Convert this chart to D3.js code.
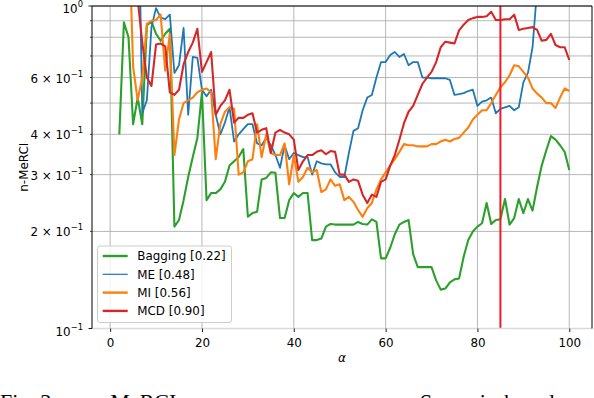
<!DOCTYPE html>
<html>
<head>
<meta charset="utf-8">
<script src="https://cdn.jsdelivr.net/npm/d3@7"></script>
<style>
  body { margin: 0; background: #fff; }
  svg { display: block; }
</style>
</head>
<body>
<div id="chart"></div>
<script>
// alpha runs 2..100, one value per step (null = not drawn / unknown)
var alphas = d3.range(2, 101);

var bagging = [
  0.40, 0.89, 0.80, 0.43, 0.52, 0.43, 0.87, 0.895, 0.82, 0.78,
  0.82, 0.85, 0.207, 0.217, 0.25, 0.295, 0.34, 0.39, 0.54, 0.25,
  0.263, 0.263, 0.27, 0.285, 0.32, 0.33, 0.34, 0.36, 0.222, 0.228,
  0.23, 0.29, 0.293, 0.305, 0.304, 0.22, 0.22, 0.25, 0.263, 0.256,
  0.263, 0.263, 0.188, 0.188, 0.19, 0.207, 0.211, 0.21, 0.21, 0.21,
  0.21, 0.21, 0.214, 0.211, 0.21, 0.218, 0.214, 0.165, 0.165, 0.178,
  0.196, 0.21, 0.214, 0.217, 0.17, 0.155, 0.155, 0.155, 0.155, 0.141,
  0.132, 0.133, 0.139, 0.142, 0.143, 0.167, 0.188, 0.2, 0.207, 0.212,
  0.245, 0.211, 0.217, 0.218, 0.252, 0.21, 0.22, 0.252, 0.228, 0.252,
  0.232, 0.275, 0.32, 0.357, 0.395, 0.385, 0.37, 0.353, 0.31
];

var me = [
  null, null, null, null, 3.0, 0.465, 0.51, 0.86, 0.985, 0.92,
  0.91, 0.94, 0.62, 0.655, 0.855, 0.46, 0.695, 0.69, 0.55, 0.525,
  0.55, 0.46, 0.40, 0.435, 0.485, 0.38, 0.40, 0.415, 0.43, 0.43,
  0.375, 0.37, 0.39, 0.37, 0.345, 0.315, 0.37, 0.335, 0.35, 0.345,
  0.34, 0.34, 0.30, 0.33, 0.325, 0.323, 0.323, 0.305, 0.295, 0.295,
  0.35, 0.41, 0.418, 0.475, 0.52, 0.53, 0.60, 0.67, 0.67, 0.705,
  0.72, 0.695, 0.71, 0.655, 0.67, 0.67, 0.60, 0.60, 0.597, 0.597,
  0.597, 0.597, 0.59, 0.53, 0.533, 0.537, 0.545, 0.55, 0.49, 0.505,
  0.51, 0.52, 0.465, 0.48, 0.485, 0.49, 0.475, 0.485, 0.58, 0.62,
  0.745, 1.13, null, null, null, null, null, null, null
];

var mi = [
  null, null, 1.9, 0.65, 0.51, 0.60, 0.88, 0.90, 0.905, 0.94,
  0.63, 0.82, 0.345, 0.445, 0.50, 0.51, 0.52, 0.54, 0.55, 0.555,
  0.54, 0.335, 0.43, 0.47, 0.485, 0.48, 0.30, 0.305, 0.33, 0.335,
  0.43, 0.34, 0.40, 0.35, 0.345, 0.345, 0.375, 0.28, 0.345, 0.285,
  0.295, 0.315, 0.305, 0.31, 0.265, 0.27, 0.29, 0.277, 0.28, 0.25,
  0.256, 0.247, 0.233, 0.222, 0.236, 0.245, 0.27, 0.29, 0.305, 0.32,
  0.335, 0.353, 0.373, 0.37, 0.37, 0.367, 0.367, 0.367, 0.373, 0.373,
  0.38, 0.385, 0.38, 0.387, 0.39, 0.405, 0.42, 0.445, 0.46, 0.475,
  0.475, 0.50, 0.53, 0.56, 0.58, 0.61, 0.655, 0.65, 0.625, 0.60,
  0.555, 0.535, 0.52, 0.50, 0.50, 0.483, 0.52, 0.555, 0.545
];

var mcd = [
  null, null, null, null, 1.05, 0.77, 0.60, 0.565, 0.76, 0.765,
  0.75, 0.54, 0.53, 0.55, 0.66, 0.72, 0.77, 0.85, 0.625, 0.67,
  0.72, 0.46, 0.49, 0.51, 0.55, 0.435, 0.45, 0.45, 0.46, 0.465,
  0.405, 0.413, 0.418, 0.35, 0.405, 0.413, 0.405, 0.40, 0.385, 0.31,
  0.33, 0.345, 0.345, 0.353, 0.357, 0.347, 0.355, 0.353, 0.30, 0.30,
  0.285, 0.29, 0.287, 0.26, 0.245, 0.26, 0.256, 0.285, 0.29, 0.32,
  0.345, 0.385, 0.433, 0.47, 0.49, 0.53, 0.573, 0.60, 0.625, 0.67,
  0.745, 0.775, 0.77, 0.765, 0.84, 0.875, 0.905, 0.917, 0.925, 0.925,
  0.93, 0.96, 0.905, 0.905, 0.91, 0.91, 0.94, 0.843, 0.85, 0.855,
  0.86, 0.843, 0.78, 0.785, 0.82, 0.757, 0.745, 0.745, 0.68
];

var seriesNames = ["Bagging [0.22]", "ME [0.48]", "MI [0.56]", "MCD [0.90]"];
var seriesColors = ["#2ca02c", "#1f77b4", "#ff7f0e", "#d62728"];
var xTicks = [0, 20, 40, 60, 80, 100];
var yMajor = [0.1, 1];
var yMinor = [0.2, 0.3, 0.4, 0.5, 0.6, 0.7, 0.8, 0.9];
var yMinorLabels = {0.2: "2", 0.3: "3", 0.4: "4", 0.6: "6"};
var markerAlpha = 85;

var W = 594, H = 398;
var plotL = 92, plotR = 592, plotT = 6, plotB = 328.5;
var font = "DejaVu Sans, sans-serif";

var x = d3.scaleLinear().domain([-3.95, 104.95]).range([plotL, plotR]);
var y = d3.scaleLog().domain([0.1, 1]).range([plotB, plotT]);

var svg = d3.select("#chart").append("svg")
    .attr("width", W)
    .attr("height", H);

svg.append("rect").attr("width", W).attr("height", H).attr("fill", "#fff");

svg.append("defs").append("clipPath").attr("id", "plotclip")
  .append("rect")
  .attr("x", plotL).attr("y", plotT)
  .attr("width", plotR - plotL).attr("height", plotB - plotT);

// grid
var grid = svg.append("g").attr("stroke", "#b0b0b0").attr("stroke-width", 0.9);
grid.selectAll("line.gx").data(xTicks).enter().append("line")
  .attr("x1", d => x(d)).attr("x2", d => x(d))
  .attr("y1", plotT).attr("y2", plotB);
grid.selectAll("line.gy").data(yMajor.concat(yMinor)).enter().append("line")
  .attr("x1", plotL).attr("x2", plotR)
  .attr("y1", d => y(d)).attr("y2", d => y(d));

// series lines
var allSeries = [bagging, me, mi, mcd];
var line = d3.line()
    .defined(d => d[1] !== null)
    .x(d => x(d[0]))
    .y(d => y(d[1]));

var plot = svg.append("g").attr("clip-path", "url(#plotclip)");
allSeries.forEach(function(s, i) {
  plot.append("path")
    .datum(alphas.map((a, j) => [a, s[j]]))
    .attr("fill", "none")
    .attr("stroke", seriesColors[i])
    .attr("stroke-width", i === 1 ? 1.8 : 2.1)
    .attr("stroke-linejoin", "round")
    .attr("d", line);
});

// vertical marker
plot.append("line")
  .attr("x1", x(markerAlpha)).attr("x2", x(markerAlpha))
  .attr("y1", plotT).attr("y2", plotB)
  .attr("stroke", "#ee1c25")
  .attr("stroke-width", 2);

// spines
svg.append("line").attr("x1", plotL).attr("x2", plotR).attr("y1", plotB).attr("y2", plotB)
  .attr("stroke", "#dadada").attr("stroke-width", 1.5);
svg.append("path")
  .attr("d", "M" + plotL + "," + plotB + "V" + plotT + "H" + plotR + "V" + plotB)
  .attr("fill", "none").attr("stroke", "#000").attr("stroke-width", 1);

// x axis
var xAxis = d3.axisBottom(x).tickValues(xTicks).tickSize(3.5).tickPadding(4).tickFormat(d => d);
var gx = svg.append("g")
  .attr("transform", "translate(0," + plotB + ")")
  .call(xAxis);
gx.select(".domain").remove();
gx.selectAll("line").attr("stroke", "#000").attr("stroke-width", 0.9);
gx.selectAll("text")
  .attr("font-family", font)
  .attr("font-size", "11.9px")
  .attr("fill", "#000")
  .attr("dy", null)
  .attr("y", 18.5);

// y axis ticks
var gy = svg.append("g");
gy.selectAll("line.maj").data(yMajor).enter().append("line")
  .attr("x1", plotL - 3.5).attr("x2", plotL)
  .attr("y1", d => y(d)).attr("y2", d => y(d))
  .attr("stroke", "#000").attr("stroke-width", 0.9);
gy.selectAll("line.min").data(yMinor).enter().append("line")
  .attr("x1", plotL - 2).attr("x2", plotL)
  .attr("y1", d => y(d)).attr("y2", d => y(d))
  .attr("stroke", "#000").attr("stroke-width", 0.7);

// y labels with superscripts
function sciLabel(g, v, mant, expo, off) {
  var t = g.append("text")
    .attr("x", 83)
    .attr("y", y(v) + off)
    .attr("text-anchor", "end")
    .attr("font-family", font)
    .attr("font-size", "11.9px")
    .attr("fill", "#000");
  t.append("tspan").text(mant ? mant + " \u00d7 10" : "10");
  t.append("tspan").attr("dy", -6).attr("font-size", "8.4px").text(expo);
}
sciLabel(gy, 1, null, "0", 7);
sciLabel(gy, 0.1, null, "\u22121", 7);
yMinor.forEach(function(v) {
  if (yMinorLabels[v]) sciLabel(gy, v, yMinorLabels[v], "\u22121", 5);
});

// axis titles
svg.append("text")
  .attr("transform", "translate(27.5," + ((plotT + plotB) / 2) + ") rotate(-90)")
  .attr("text-anchor", "middle")
  .attr("font-family", font)
  .attr("font-size", "11.9px")
  .text("n-MeRCI");

svg.append("text")
  .attr("x", (plotL + plotR) / 2)
  .attr("y", 362)
  .attr("text-anchor", "middle")
  .attr("font-family", font)
  .attr("font-style", "italic")
  .attr("font-size", "12px")
  .text("\u03b1");

// legend
var lg = svg.append("g");
lg.append("rect")
  .attr("x", 97.5).attr("y", 246)
  .attr("width", 134).attr("height", 76.5)
  .attr("rx", 2.5)
  .attr("fill", "#fff").attr("fill-opacity", 0.8)
  .attr("stroke", "#cccccc").attr("stroke-width", 1);
seriesNames.forEach(function(name, i) {
  var cy = 256 + i * 18.3;
  lg.append("line")
    .attr("x1", 102.7).attr("x2", 127.7)
    .attr("y1", cy).attr("y2", cy)
    .attr("stroke", seriesColors[i])
    .attr("stroke-width", i === 1 ? 1.2 : 2.4);
  lg.append("text")
    .attr("x", 137.3).attr("y", cy + 4.3)
    .attr("font-family", font)
    .attr("font-size", "11.9px")
    .attr("fill", "#000")
    .text(name);
});

// caption, cut off by the bottom of the picture
var cap = svg.append("g")
  .attr("font-family", "Liberation Serif, serif")
  .attr("font-size", "22px")
  .attr("fill", "#000");
cap.append("text").attr("x", 0).attr("y", 409).text("Fig. 3:");
cap.append("text").attr("x", 92).attr("y", 409).text("n-MeRCI");
cap.append("text").attr("x", 420).attr("y", 409).text("Scenario-based");
</script>
</body>
</html>
